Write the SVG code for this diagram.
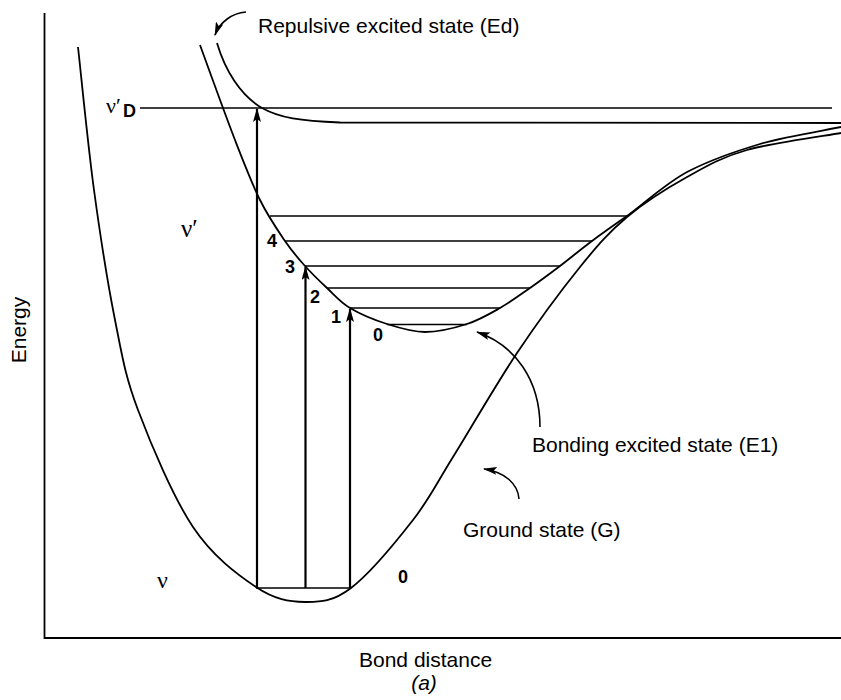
<svg xmlns="http://www.w3.org/2000/svg" width="841" height="700" viewBox="0 0 841 700">
<style>
.curve{fill:none;stroke:#000;stroke-width:1.8}
.lvl{fill:none;stroke:#000;stroke-width:1.6}
.axis{fill:none;stroke:#000;stroke-width:1.8}
.tr{fill:none;stroke:#000;stroke-width:2.2}
.ann{fill:none;stroke:#000;stroke-width:1.6}
.lab{font-family:"Liberation Sans",Arial,sans-serif;font-size:21px;fill:#000}
.num{font-family:"Liberation Sans",Arial,sans-serif;font-size:18px;font-weight:bold;fill:#000}
.nu{font-family:"Liberation Serif","Times New Roman",serif;fill:#000}
</style>
<defs>
<marker id="ah" viewBox="0 0 14 8" refX="13" refY="4" markerWidth="14" markerHeight="8" markerUnits="userSpaceOnUse" orient="auto">
<path d="M0,0 L14,4 L0,8 L3,4 z" fill="#000"/>
</marker>
</defs>
<rect width="841" height="700" fill="#fff"/>
<g id="axes">
<path class="axis" d="M44.5,13 V638 H841"/>
</g>
<g id="ground-state">
<path class="curve" d="M78,47 C80.7,70.8 87.8,144.5 94,190 C100.2,235.5 107.7,283.3 115,320 C122.3,356.7 125,375.5 138,410 C151,444.5 173.3,497.5 193,527 C212.7,556.5 237.3,574.5 256,587 C274.7,599.5 289.2,601.8 305,602 C320.8,602.2 333,601.7 351,588 C369,574.3 396,541.8 413,520 C430,498.2 435.7,484.8 453,457 C470.3,429.2 495.8,384.7 517,353 C538.2,321.3 561.7,289.7 580,267 C598.3,244.3 609.2,232 627,217 C644.8,202 667,188.2 687,177 C707,165.8 721.3,157.3 747,150 C772.7,142.7 825.3,135.8 841,133"/>
<path class="lvl" d="M256,588 H351"/>
</g>
<g id="bonding-excited-state">
<path class="curve" d="M200,45 C205.8,60.8 225,114.2 235,140 C245,165.8 251.7,183.2 260,200 C268.3,216.8 277.5,230 285,241 C292.5,252 298,258.2 305,266 C312,273.8 319.5,281 327,288 C334.5,295 340,302 350,308 C360,314 374.5,320 387,324 C399.5,328 411.7,332 425,332 C438.3,332 454.5,328 467,324 C479.5,320 489.5,314 500,308 C510.5,302 520,295 530,288 C540,281 549.7,273.8 560,266 C570.3,258.2 580.8,249.3 592,241 C603.2,232.7 610.7,227.5 627,216 C643.3,204.5 665.8,182.8 689,171 C712.2,159.2 734.8,151.5 760,144 C785.2,136.5 827.5,130 841,127"/>
<path class="lvl" d="M270,216 H627 M285,241 H592 M305,266 H560 M327,288 H530 M350,308 H500 M387,324.5 H467"/>
</g>
<g id="repulsive-excited-state">
<path class="curve" d="M217,43 C225,70 240,95 262,108 C280,118 300,121 340,122.5 L841,123"/>
</g>
<g id="dissociation-level">
<path class="lvl" d="M140,108 H832"/>
</g>
<g id="connectors">
<path class="tr" d="M257,588 V109" marker-end="url(#ah)"/>
<path class="tr" d="M305.5,588 V267" marker-end="url(#ah)"/>
<path class="tr" d="M350,588 V309" marker-end="url(#ah)"/>
<path class="ann" d="M246,12 C232,13 220,22 215,35" marker-end="url(#ah)"/>
<path class="ann" d="M540,427 C540,380 515,345 477,332" marker-end="url(#ah)"/>
<path class="ann" d="M519,499 C518,484 505,472 484,469" marker-end="url(#ah)"/>
</g>
<g id="labels">
<text class="lab" x="258" y="33">Repulsive excited state (Ed)</text>
<text class="lab" x="532" y="452">Bonding excited state (E1)</text>
<text class="lab" x="463" y="537">Ground state (G)</text>
<text class="lab" x="359" y="667" font-size="20">Bond distance</text>
<text class="lab" x="424" y="690" font-size="19" font-style="italic" text-anchor="middle">(a)</text>
<text class="lab" transform="translate(26,330) rotate(-90)" font-size="20" text-anchor="middle">Energy</text>
<text class="nu" x="106" y="113" font-size="22">ν′</text>
<text class="num" x="123" y="117" font-size="14">D</text>
<text class="nu" x="181" y="237" font-size="25">ν′</text>
<text class="nu" x="157" y="588" font-size="24">ν</text>
<text class="num" x="267" y="247">4</text>
<text class="num" x="285" y="273">3</text>
<text class="num" x="310" y="303">2</text>
<text class="num" x="331" y="323">1</text>
<text class="num" x="373" y="341">0</text>
<text class="num" x="398" y="583">0</text>
</g>
</svg>
